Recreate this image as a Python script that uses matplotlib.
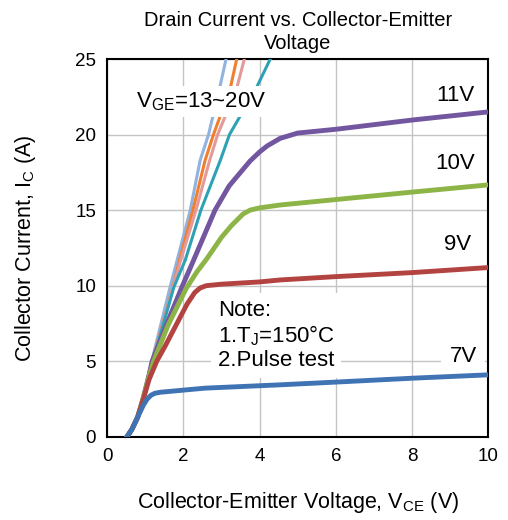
import matplotlib.pyplot as plt

plt.rcParams['font.family'] = ['Liberation Sans', 'DejaVu Sans']

# Curve data (V_CE in V, I_C in A)
x_7v = [0.52, 0.65, 0.8, 0.95, 1.05, 1.15, 1.25, 1.4, 2.57, 4.54, 6.0, 8.03, 10.0]
y_7v = [0.0, 0.5, 1.3, 2.1, 2.5, 2.75, 2.88, 2.95, 3.22, 3.44, 3.62, 3.88, 4.1]

x_9v = [0.52, 0.65, 0.8, 0.95, 1.1, 1.3, 1.52, 1.83, 2.1, 2.3, 2.44, 2.6, 3.0, 4.0, 4.54, 6.0, 8.03, 10.0]
y_9v = [0.0, 0.5, 1.3, 2.5, 3.8, 5.0, 6.0, 7.5, 8.8, 9.55, 9.85, 10.0, 10.1, 10.25, 10.38, 10.6, 10.87, 11.2]

x_10v = [0.52, 0.65, 0.8, 0.95, 1.1, 1.22, 1.6, 2.07, 2.35, 2.62, 3.0, 3.27, 3.57, 3.75, 4.0, 4.54, 6.0, 8.03, 10.0]
y_10v = [0.0, 0.5, 1.3, 2.6, 4.0, 5.0, 7.4, 9.8, 10.9, 11.8, 13.2, 14.0, 14.75, 15.0, 15.15, 15.34, 15.7, 16.2, 16.67]

x_11v = [0.52, 0.65, 0.8, 0.95, 1.1, 1.18, 1.6, 1.96, 2.27, 2.83, 3.2, 3.5, 3.75, 4.0, 4.2, 4.54, 5.0, 6.0, 8.03, 10.0]
y_11v = [0.0, 0.5, 1.3, 2.6, 4.1, 5.0, 7.7, 9.9, 11.7, 15.0, 16.6, 17.5, 18.25, 18.85, 19.25, 19.75, 20.1, 20.35, 20.97, 21.5]

x_ltblue = [0.52, 0.65, 0.8, 0.95, 1.1, 1.65, 2.18, 2.44, 2.66, 2.95, 3.12, 3.3]
y_ltblue = [0.0, 0.5, 1.3, 2.6, 4.3, 9.9, 15.0, 18.3, 20.0, 23.06, 25.0, 27.0]
x_orange = [0.52, 0.65, 0.8, 0.95, 1.1, 1.72, 1.9, 2.25, 2.57, 2.79, 3.23, 3.4, 3.5]
y_orange = [0.0, 0.5, 1.3, 2.6, 4.25, 9.83, 11.7, 15.0, 18.3, 20.0, 23.06, 25.0, 26.0]
x_pink = [0.52, 0.65, 0.8, 0.95, 1.1, 1.73, 1.93, 2.33, 2.69, 2.9, 3.4, 3.6, 3.7]
y_pink = [0.0, 0.5, 1.3, 2.6, 4.2, 9.9, 11.7, 15.0, 18.3, 20.0, 23.06, 25.0, 26.0]
x_teal = [0.52, 0.65, 0.8, 0.95, 1.1, 1.75, 2.05, 2.46, 2.97, 3.21, 3.91, 4.28, 4.45]
y_teal = [0.0, 0.5, 1.3, 2.6, 4.15, 9.9, 11.7, 15.0, 18.3, 20.0, 23.06, 25.0, 25.8]

fig = plt.figure(figsize=(5.08, 5.20), dpi=100)
ax = fig.add_axes([0.211, 0.160, 0.750, 0.7265])

ax.plot(x_ltblue, y_ltblue, color="#92b2e0", lw=2.2, zorder=3)
ax.plot(x_orange, y_orange, color="#ee8030", lw=2.2, zorder=3)
ax.plot(x_pink, y_pink, color="#e49a98", lw=2.2, zorder=3)
ax.plot(x_teal, y_teal, color="#2ea2b4", lw=2.2, zorder=3)
ax.plot(x_11v, y_11v, color="#7356a0", lw=3.5, zorder=3)
ax.plot(x_10v, y_10v, color="#8db446", lw=3.5, zorder=3)
ax.plot(x_9v, y_9v, color="#b34340", lw=3.5, zorder=3)
ax.plot(x_7v, y_7v, color="#3f73b4", lw=3.5, zorder=3)

ax.set_xlim(0, 10)
ax.set_ylim(0, 25)
ax.set_xticks([0, 2, 4, 6, 8, 10])
ax.set_yticks([0, 5, 10, 15, 20, 25])
ax.grid(True, color="#c4c4c4", lw=1)
ax.set_axisbelow(True)
ax.tick_params(length=0, labelsize=13.5, pad=8)
for s in ax.spines.values():
    s.set_linewidth(1.5)
    s.set_color("black")

wbox = dict(facecolor="white", edgecolor="none", pad=2)
ax.text(0.75, 22.2, "V$_{\\mathregular{GE}}$=13~20V", fontsize=16, va="center",
        ha="left", bbox=dict(facecolor="white", edgecolor="none", pad=3), zorder=4)
ax.text(9.13, 22.6, "11V", fontsize=16, ha="center", va="center", bbox=wbox, zorder=2)
ax.text(9.13, 18.1, "10V", fontsize=16, ha="center", va="center", bbox=wbox, zorder=2)
ax.text(9.2, 12.7, "9V", fontsize=16, ha="center", va="center", bbox=wbox, zorder=2)
ax.text(9.35, 5.3, "7V", fontsize=16, ha="center", va="center",
        bbox=dict(facecolor="white", edgecolor="none", pad=6), zorder=2)
ax.text(2.9, 6.7, "Note:\n1.T$_{\\mathregular{J}}$=150°C\n2.Pulse test", fontsize=16,
        ha="left", va="center", linespacing=1.12,
        bbox=dict(facecolor="white", edgecolor="none", pad=5), zorder=2)

ax.set_title("Drain Current vs. Collector-Emitter\nVoltage", fontsize=14.5, pad=7,
             linespacing=1.28)
ax.set_xlabel("Collector-Emitter Voltage, V$_{\\mathregular{CE}}$ (V)", fontsize=15.5,
              labelpad=18)
ax.set_ylabel("Collector Current, I$_{\\mathregular{C}}$ (A)", fontsize=15.5, labelpad=27)

fig.savefig("out.png", dpi=100)
